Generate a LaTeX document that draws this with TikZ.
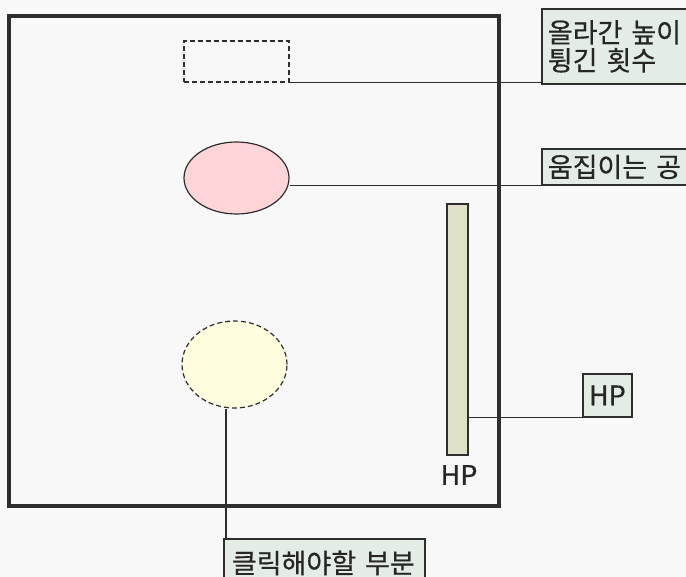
\documentclass[tikz,border=0pt]{standalone}
\usepackage{fontspec}
\setmainfont{Noto Sans CJK KR}[FakeBold=0.6]
\usetikzlibrary{shapes.geometric}
\definecolor{bgGray}{HTML}{F8F8F8}
\definecolor{lineGray}{HTML}{2E2E2E}
\definecolor{lblGreen}{HTML}{E4ECE6}
\definecolor{ballPink}{HTML}{FFD5D8}
\definecolor{clickYellow}{HTML}{FFFFE0}
\definecolor{barKhaki}{HTML}{E0E0C8}
\tikzset{
  lbl/.style={draw=lineGray, line width=1.8pt, fill=lblGreen, inner xsep=6pt, inner ysep=2pt,
    anchor=north west, align=left, text=black!85,
    font=\fontsize{27}{28}\selectfont},
  conn/.style={draw=lineGray, line width=1.2pt},
  dashline/.style={draw=lineGray, line width=1.2pt, dash pattern=on 5pt off 3pt}
}
\begin{document}
\begin{tikzpicture}[x=1pt,y=-1pt]
  \path[use as bounding box, fill=bgGray] (0,0) rectangle (686,577);
  \clip (0,0) rectangle (686,577);

  % stage
  \draw[lineGray, line width=4pt] (9,16) rectangle (499,506);

  % objects on the stage
  \node[dashline, rectangle, minimum width=105, minimum height=41, inner sep=0pt]
    (heightBox) at (236.5,61.5) {};
  \node[conn, ellipse, fill=ballPink, minimum width=105, minimum height=72, inner sep=0pt]
    (ball) at (236.5,178) {};
  \node[dashline, ellipse, fill=clickYellow, minimum width=105, minimum height=87, inner sep=0pt]
    (click) at (234.5,364.5) {};
  \node[draw=lineGray, line width=1.5pt, fill=barKhaki, minimum width=21, minimum height=251, inner sep=0pt]
    (hpBar) at (457.5,329.5) {};
  \node[text=black!85, font=\fontsize{27}{28}\selectfont, inner sep=0pt]
    (hpText) at (459,475) {HP};

  % labels
  \node[lbl, text width=150pt, minimum height=75] (lblHeight) at (541,8) {올라간 높이\\튕긴 횟수};
  \node[lbl, text width=150pt, minimum height=36] (lblBall) at (541,148) {움집이는 공};
  \node[lbl, minimum width=49, minimum height=43, inner xsep=3pt, align=center] (lblHP) at (582,373) {HP};
  \node[lbl, text width=185pt, minimum height=48, inner xsep=8pt] (lblClick) at (223,538) {클릭해야할 부분};

  % connectors
  \draw[conn] (heightBox.south east) -- (heightBox.south east -| lblHeight.west);
  \draw[conn] (ball.east |- lblBall.south) -- (lblBall.south west);
  \draw[conn] (hpBar.east |- lblHP.south) -- (lblHP.south west);
  \coordinate (clickFoot) at ([xshift=3pt]lblClick.north west);
  \draw[conn] (clickFoot) -- (clickFoot |- click.south);
\end{tikzpicture}
\end{document}
